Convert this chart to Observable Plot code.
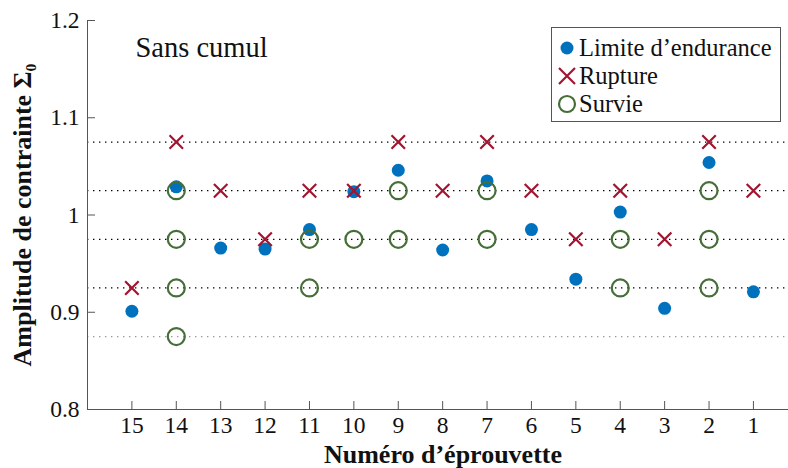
<!DOCTYPE html>
<html>
<head>
<meta charset="utf-8">
<script src="https://cdn.jsdelivr.net/npm/d3@7"></script>
<script src="https://cdn.jsdelivr.net/npm/@observablehq/plot@0.6"></script>
<style>
  body { margin: 0; background: #fff; }
  #wrap { position: relative; width: 788px; height: 468px; font-family: "Liberation Serif", "DejaVu Serif", serif; }
  #legend { position: absolute; left: 551px; top: 27px; width: 230px; height: 95px; border: 1px solid #555; box-sizing: border-box; background: #fff; }
  .row { position: absolute; left: 0; height: 28px; display: flex; align-items: center; font-size: 24.5px; color: #111; white-space: nowrap; }
  .row svg { display: block; margin-left: 5px; margin-right: 2px; }
</style>
</head>
<body>
<div id="wrap"></div>
<script>
// ---- data ----
const specimens = [15, 14, 13, 12, 11, 10, 9, 8, 7, 6, 5, 4, 3, 2, 1];
const limiteValues = [0.901, 1.029, 0.966, 0.965, 0.985, 1.024, 1.046, 0.964, 1.035, 0.985, 0.934, 1.003, 0.904, 1.054, 0.921];
const ruptureValues = [0.925, 1.075, 1.025, 0.975, 1.025, 1.025, 1.075, 1.025, 1.075, 1.025, 0.975, 1.025, 0.975, 1.075, 1.025];
const survieSpecimens = [14, 14, 14, 14, 11, 11, 10, 9, 9, 7, 7, 4, 4, 2, 2, 2];
const survieValues = [1.025, 0.975, 0.925, 0.875, 0.975, 0.925, 0.975, 1.025, 0.975, 1.025, 0.975, 0.975, 0.925, 1.025, 0.975, 0.925];
const gridLevels = [0.875, 0.925, 0.975, 1.025, 1.075];
const yTicks = [0.8, 0.9, 1, 1.1, 1.2];
const yTickLabels = ["0.8", "0.9", "1", "1.1", "1.2"];
const seriesNames = ["Limite d\u2019endurance", "Rupture", "Survie"];
const annotation = "Sans cumul";
const xLabel = "Num\u00e9ro d\u2019\u00e9prouvette";
const yLabel = "Amplitude de contrainte \u03a3\u2080";

const colBlue = "#0072bd", colRed = "#a2142f", colGreen = "#466e38", axisCol = "#555";

const limite = specimens.map((s, i) => ({s, v: limiteValues[i]}));
const rupture = specimens.map((s, i) => ({s, v: ruptureValues[i]}));
const survie = survieSpecimens.map((s, i) => ({s, v: survieValues[i]}));

const W = 788, H = 468, mL = 87, mR = 0, mT = 20, mB = 59;
const innerW = W - mL - mR, innerH = H - mT - mB;

const chart = Plot.plot({
  width: W, height: H,
  marginLeft: mL, marginRight: mR, marginTop: mT, marginBottom: mB,
  style: {fontFamily: "'Liberation Serif', 'DejaVu Serif', serif", fontSize: "23px", color: "#111", background: "#fff", overflow: "visible"},
  x: {type: "linear", domain: [16, 0.21], axis: null},
  y: {type: "linear", domain: [0.8, 1.2], axis: null},
  marks: [
    Plot.ruleY(gridLevels, {y: d => d, stroke: d => d === 0.875 ? "#999" : "#000", strokeWidth: 1.2, strokeDasharray: "1.4,4.6"}),
    Plot.ruleX([16], {stroke: axisCol}),
    Plot.ruleY([0.8], {stroke: axisCol}),
    Plot.tickX(specimens, {x: d => d, stroke: axisCol, insetTop: innerH - 8}),
    Plot.tickY(yTicks, {y: d => d, stroke: axisCol, insetRight: innerW - 8}),
    Plot.axisX({ticks: specimens, tickFormat: d => String(d), tickSize: 0, tickPadding: 7, label: null, fontSize: 23.5}),
    Plot.axisY({ticks: yTicks, tickFormat: d => yTickLabels[yTicks.indexOf(d)], tickSize: 0, tickPadding: 8, label: null, fontSize: 23.5}),
    Plot.dot(limite, {x: "s", y: "v", r: 6.5, fill: colBlue, stroke: null}),
    Plot.dot(rupture, {x: "s", y: "v", r: 6.2, symbol: "times", stroke: colRed, strokeWidth: 2.2}),
    Plot.dot(survie, {x: "s", y: "v", r: 8.5, symbol: "circle", fill: "none", stroke: colGreen, strokeWidth: 2.2}),
    Plot.text([annotation], {text: d => d, frameAnchor: "top-left", dx: 48, dy: 27, textAnchor: "start", lineAnchor: "middle", fontSize: 28.5, fill: "#111"}),
    Plot.text([xLabel], {text: d => d, frameAnchor: "bottom", dy: 45, dx: 5, textAnchor: "middle", lineAnchor: "middle", fontSize: 26, fontWeight: "bold", fill: "#111"}),
    Plot.text([yLabel], {text: d => d, frameAnchor: "left", dx: -65, rotate: -90, textAnchor: "middle", lineAnchor: "middle", fontSize: 26, fontWeight: "bold", fill: "#111"})
  ]
});

const wrap = document.getElementById("wrap");
wrap.appendChild(chart);

// legend
const legend = document.createElement("div");
legend.id = "legend";
const symbols = [
  `<svg width="20" height="20"><circle cx="10" cy="10" r="6.5" fill="${colBlue}"/></svg>`,
  `<svg width="20" height="20"><path d="M2,2L18,18M18,2L2,18" stroke="${colRed}" stroke-width="2.2" fill="none"/></svg>`,
  `<svg width="20" height="20"><circle cx="10" cy="10" r="8" fill="none" stroke="${colGreen}" stroke-width="2.2"/></svg>`
];
const rowTops = [6, 34, 62];
seriesNames.forEach((name, i) => {
  const row = document.createElement("div");
  row.className = "row";
  row.style.top = rowTops[i] + "px";
  row.innerHTML = symbols[i] + `<span>${name}</span>`;
  legend.appendChild(row);
});
wrap.appendChild(legend);
</script>
</body>
</html>
